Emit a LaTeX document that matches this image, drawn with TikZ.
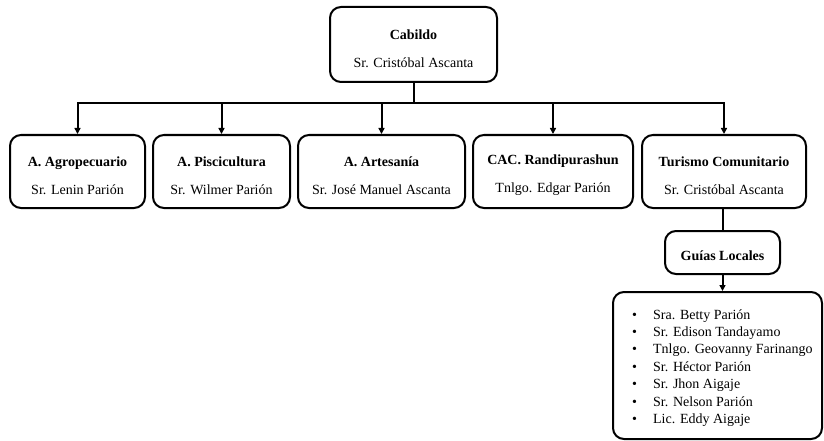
\documentclass[tikz,border=0pt]{standalone}
\usepackage{fontspec}
\setmainfont{Liberation Serif}
\usetikzlibrary{arrows.meta}
\begin{document}
\begin{tikzpicture}[x=1pt,y=-1pt,
  box/.style={draw,line width=2pt,rounded corners=11pt,inner sep=0pt},
  txt/.style={align=center,inner sep=0pt,font=\fontsize{14}{28}\selectfont},
  conn/.style={line width=2pt},
  arr/.style={line width=2pt,-{Triangle[length=6pt,width=6pt]}}]
\useasboundingbox (0,0) rectangle (824,441);
\node[box,minimum width=167pt,minimum height=75pt] (cab) at (413.5,44.5) {};
\node[txt] (tcab) at (413.5,48.5) {\textbf{Cabildo}\\Sr. Cristóbal Ascanta};
\node[box,minimum width=135pt,minimum height=73pt] (b1) at (77.5,171.5) {};
\node[txt] (t1) at (77.5,175.5) {\textbf{A. Agropecuario}\\Sr. Lenin Parión};
\node[box,minimum width=137pt,minimum height=73pt] (b2) at (221.5,171.5) {};
\node[txt] (t2) at (221.5,175.5) {\textbf{A. Piscicultura}\\Sr. Wilmer Parión};
\node[box,minimum width=167pt,minimum height=73pt] (b3) at (381.5,171.5) {};
\node[txt] (t3) at (381.5,175.5) {\textbf{A. Artesanía}\\Sr. José Manuel Ascanta};
\node[box,minimum width=160pt,minimum height=73pt] (b4) at (553,171.5) {};
\node[txt] (t4) at (553,175.5) {\textbf{CAC. Randipurashun}\\Tnlgo. Edgar Parión};
\node[box,minimum width=164pt,minimum height=73pt] (b5) at (724,171.5) {};
\node[txt] (t5) at (724,175.5) {\textbf{Turismo Comunitario}\\Sr. Cristóbal Ascanta};
\node[box,minimum width=115pt,minimum height=43pt] (gl) at (722.5,252.5) {};
\node[txt] (tgl) at (722.5,256) {\textbf{Guías Locales}};
\node[box,minimum width=209pt,minimum height=147pt] (list) at (717.5,365.5) {};
\node[anchor=west,align=left,inner sep=0pt,font=\fontsize{14}{17.4}\selectfont] (listtxt) at (632,368)
{\makebox[21pt][l]{•}Sra. Betty Parión\\
\makebox[21pt][l]{•}Sr. Edison Tandayamo\\
\makebox[21pt][l]{•}Tnlgo. Geovanny Farinango\\
\makebox[21pt][l]{•}Sr. Héctor Parión\\
\makebox[21pt][l]{•}Sr. Jhon Aigaje\\
\makebox[21pt][l]{•}Sr. Nelson Parión\\
\makebox[21pt][l]{•}Lic. Eddy Aigaje};
\coordinate (busL) at (77.5,103);
\coordinate (busR) at (724,103);
\draw[conn] (cab.south) -- (cab.south |- busL);
\draw[conn,line cap=rect] (busL) -- (busR);
\foreach \b in {b1,b2,b3,b4,b5} \draw[arr] (\b.north |- busL) -- (\b.north);
\draw[conn] (b5.south -| gl.north) -- (gl.north);
\draw[arr] (gl.south) -- (gl.south |- list.north);
\end{tikzpicture}
\end{document}
